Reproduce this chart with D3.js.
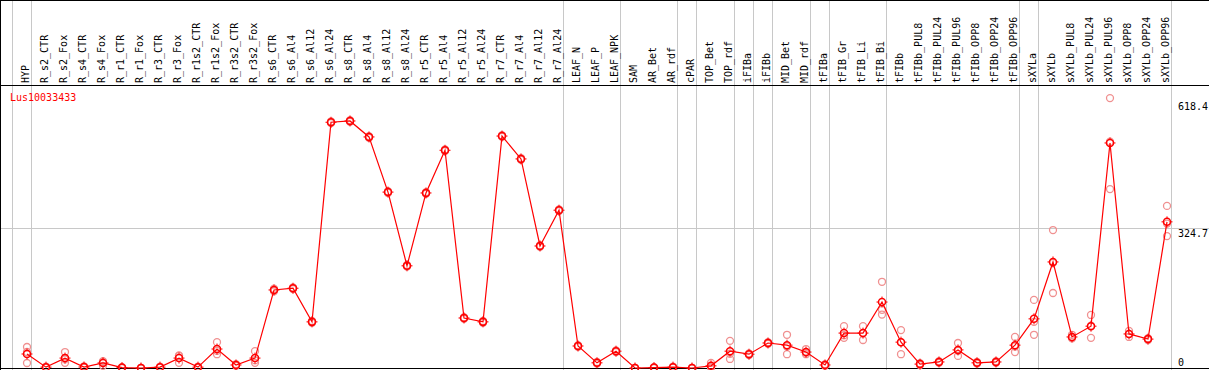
<!DOCTYPE html>
<html>
<head>
<meta charset="utf-8">
<script src="https://cdn.jsdelivr.net/npm/d3@7"></script>
<style>
  body { margin: 0; background: #fff; }
  svg text { font-family: "DejaVu Sans Mono", monospace; font-size: 10px; }
</style>
</head>
<body>
<script>
// categories (sample names)
var samples = ['HYP','R_s2_CTR','R_s2_Fox','R_s4_CTR','R_s4_Fox','R_r1_CTR','R_r1_Fox','R_r3_CTR','R_r3_Fox',
  'R_r1s2_CTR','R_r1s2_Fox','R_r3s2_CTR','R_r3s2_Fox','R_s6_CTR','R_s6_Al4','R_s6_Al12','R_s6_Al24',
  'R_s8_CTR','R_s8_Al4','R_s8_Al12','R_s8_Al24','R_r5_CTR','R_r5_Al4','R_r5_Al12','R_r5_Al24',
  'R_r7_CTR','R_r7_Al4','R_r7_Al12','R_r7_Al24','LEAF_N','LEAF_P','LEAF_NPK','SAM','AR_Bet','AR_rdf',
  'cPAR','TOP_Bet','TOP_rdf','iFIBa','iFIBb','MID_Bet','MID_rdf','tFIBa','tFIB_Gr','tFIB_Li','tFIB_Bi',
  'tFIBb','tFIBb_PUL8','tFIBb_PUL24','tFIBb_PUL96','tFIBb_OPP8','tFIBb_OPP24','tFIBb_OPP96',
  'sXYLa','sXYLb','sXYLb_PUL8','sXYLb_PUL24','sXYLb_PUL96','sXYLb_OPP8','sXYLb_OPP24','sXYLb_OPP96'];

// mean expression per sample
var means = [32.5,2,23,2.3,11.7,1,0,2,23,2,44,7,23,181,185,107,570,573,536,408,237,406,505,116,107,
  538,485,283,366,51,12,39,0,1,2,0,5,39,32,58,53,37,7,81,81,153,60,9,14,42,12,14,53,
  114,246,72,97,522,79,67,339];

// replicate values per sample
var replicates = [[48.7,37.1,11.6],[3,1,2],[37,12,20],[4,1,2],[14,5,16],[2,0,1],[0,0,0],[3,1,2],[28,12,29],
  [3,1,2],[60,32,40],[9,5,7],[39,12,18],[184,178,181],[187,183,185],[109,105,107],[572,568,570],
  [575,571,573],[538,534,536],[410,406,408],[239,235,237],[408,404,406],[507,503,505],[118,114,116],
  [109,105,107],[540,536,538],[487,483,485],[285,281,283],[368,364,366],[53,49,51],[14,10,12],[41,37,39],
  [0,0,0],[2,0,1],[3,1,2],[0,0,0],[12,1,2],[63,21,33],[34,30,32],[60,56,58],[77,32,50],[44,32,35],
  [9,5,7],[97,70,76],[97,65,81],[200,135,124],[88,32,60],[11,7,9],[16,12,14],[58,28,40],[14,10,12],
  [16,12,14],[72,37,50],[158,77,107],[320,174,244],[77,70,69],[123,70,98],[626,415,525],[86,72,79],
  [69,65,67],[376,306,335]];

// indices where a group separator line sits (before that sample)
var groupBreaks = [0,1,29,32,35,36,38,39,40,42,43,46,53,54,61];

var yTicks = [0, 324.7, 618.4];
var geneName = 'Lus10033433';

var width = 1209, height = 370, headerH = 85;

var svg = d3.select('body').append('svg')
  .attr('width', width)
  .attr('height', height);

var x = d3.scaleBand().domain(d3.range(samples.length + 1)).range([12, 12 + 19 * (samples.length + 1)]).padding(0);
function cx(i){ return x(i) + 15; }
var y = d3.scaleLinear().domain([0, 618.4]).range([368, 101.4]);

// group separators
svg.selectAll('line.sep').data(groupBreaks)
  .enter().append('line')
  .attr('class', 'sep')
  .attr('x1', function(d){ return x(d) + 0.5; })
  .attr('x2', function(d){ return x(d) + 0.5; })
  .attr('y1', 0).attr('y2', height)
  .attr('stroke', '#c8c8c8');

// middle grid line
svg.append('line')
  .attr('x1', 0).attr('x2', width)
  .attr('y1', Math.round(y(324.7)) + 0.5).attr('y2', Math.round(y(324.7)) + 0.5)
  .attr('stroke', '#c8c8c8');

// frame
svg.append('line').attr('x1', 0).attr('x2', width).attr('y1', 0.5).attr('y2', 0.5).attr('stroke', '#000');
svg.append('line').attr('x1', 0).attr('x2', width).attr('y1', headerH + 0.5).attr('y2', headerH + 0.5).attr('stroke', '#000');
svg.append('line').attr('x1', 0).attr('x2', width).attr('y1', height - 1.5).attr('y2', height - 1.5).attr('stroke', '#000');
svg.append('line').attr('x1', 0.5).attr('x2', 0.5).attr('y1', 0).attr('y2', height).attr('stroke', '#000');

// sample labels
svg.selectAll('text.lab').data(samples)
  .enter().append('text')
  .attr('class', 'lab')
  .attr('transform', function(d, i){ return 'translate(' + (cx(i) + 2) + ',83) rotate(-90)'; })
  .attr('fill', '#000')
  .text(function(d){ return d; });

// gene name
svg.append('text').attr('x', 10).attr('y', 101).attr('fill', '#ff0000').text(geneName);

// right axis labels
svg.selectAll('text.tick').data(yTicks)
  .enter().append('text')
  .attr('class', 'tick')
  .attr('x', 1178)
  .attr('y', function(d){ return Math.min(Math.round(y(d)) + 9, 366); })
  .attr('fill', '#000')
  .text(function(d){ return d === 0 ? '0' : d3.format('.1f')(d); });

// replicate points
var reps = [];
replicates.forEach(function(r, i){ r.forEach(function(v){ reps.push({i: i, v: v}); }); });
svg.selectAll('circle.rep').data(reps)
  .enter().append('circle')
  .attr('class', 'rep')
  .attr('cx', function(d){ return cx(d.i); })
  .attr('cy', function(d){ return y(d.v); })
  .attr('r', 3.5)
  .attr('fill', 'none')
  .attr('stroke', '#f09090')
  .attr('stroke-width', 1.3);

// mean line
var line = d3.line()
  .x(function(d, i){ return cx(i); })
  .y(function(d){ return y(d); });
svg.append('path').datum(means)
  .attr('d', line)
  .attr('fill', 'none')
  .attr('stroke', '#ff0000')
  .attr('stroke-width', 1.2);

// mean markers
var marks = svg.selectAll('g.mark').data(means)
  .enter().append('g')
  .attr('class', 'mark')
  .attr('transform', function(d, i){ return 'translate(' + cx(i) + ',' + y(d) + ')'; });
marks.append('circle')
  .attr('r', 3.5)
  .attr('fill', 'none')
  .attr('stroke', '#ff0000')
  .attr('stroke-width', 1.5);
marks.append('path')
  .attr('d', 'M0,-5.5V-3.5M0,3.5V5.5M-5.5,0H-3.5M3.5,0H5.5')
  .attr('stroke', '#ff0000')
  .attr('stroke-width', 1);
</script>
</body>
</html>
